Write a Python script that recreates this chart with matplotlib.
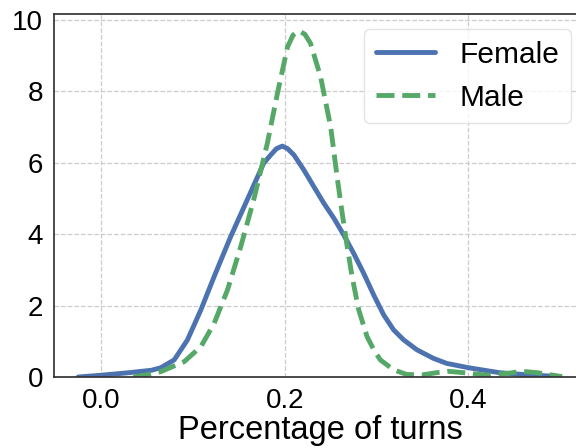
import matplotlib
matplotlib.use("Agg")
import matplotlib.pyplot as plt

plt.rcParams['font.family'] = ['Liberation Sans', 'DejaVu Sans']

# Female density curve
female_x = [-0.025, 0.0, 0.03, 0.055, 0.065, 0.0796, 0.094, 0.1086, 0.123, 0.141,
            0.159, 0.177, 0.1846, 0.191, 0.1973, 0.203, 0.210, 0.2208, 0.2317, 0.2425,
            0.2534, 0.2642, 0.2751, 0.286, 0.2968, 0.3077, 0.3185, 0.3294, 0.344, 0.362,
            0.3765, 0.40, 0.434, 0.47, 0.496]
female_y = [0.0, 0.05, 0.12, 0.19, 0.26, 0.48, 1.04, 1.88, 2.81, 3.93,
            4.96, 5.99, 6.22, 6.40, 6.47, 6.40, 6.22, 5.80, 5.33, 4.87,
            4.45, 3.98, 3.46, 2.90, 2.30, 1.74, 1.32, 1.04, 0.76, 0.52,
            0.38, 0.26, 0.12, 0.05, 0.02]

# Male density curve
male_x = [0.035, 0.05, 0.065, 0.0905, 0.1086, 0.123, 0.1376, 0.152, 0.1665, 0.181,
          0.192, 0.203, 0.209, 0.2154, 0.222, 0.228, 0.239, 0.250, 0.257, 0.2625,
          0.268, 0.2733, 0.2805, 0.2896, 0.297, 0.304, 0.3185, 0.333, 0.35, 0.365,
          0.378, 0.391, 0.42, 0.445, 0.458, 0.475, 0.502]
male_y = [0.0, 0.06, 0.15, 0.43, 0.85, 1.50, 2.44, 3.65, 5.0, 6.55,
          7.95, 9.25, 9.58, 9.70, 9.6, 9.35, 8.41, 7.0, 5.6, 4.59,
          3.65, 2.81, 1.88, 1.13, 0.76, 0.48, 0.20, 0.07, 0.06, 0.12,
          0.16, 0.13, 0.05, 0.11, 0.16, 0.12, 0.01]

series_labels = ["Female", "Male"]
x_ticks = [0.0, 0.2, 0.4]
y_ticks = [0, 2, 4, 6, 8, 10]
x_label = "Percentage of turns"

fig = plt.figure(figsize=(5.76, 4.48), dpi=100)
W, H = 576.0, 448.0
left, top, bottom, right = 54.3, 13.7, 377.0, 586.0
ax = fig.add_axes([left / W, (H - bottom) / H, (right - left) / W, (bottom - top) / H])

ax.plot(female_x, female_y, color="#4C72B0", lw=3.5, label=series_labels[0],
        solid_capstyle="round", solid_joinstyle="round")
ax.plot(male_x, male_y, color="#55A868", lw=3.5, ls="--", label=series_labels[1],
        dash_joinstyle="round")

ax.set_xlim(-0.051, 0.528)
ax.set_ylim(0, 10.18)
ax.set_xticks(x_ticks)
ax.set_xticklabels([f"{v:.1f}" for v in x_ticks])
ax.set_yticks(y_ticks)
ax.set_yticklabels([str(v) for v in y_ticks])
ax.tick_params(axis="both", length=0, pad=8, labelsize=20, colors="black")
ax.set_xlabel(x_label, fontsize=23.5, labelpad=0.5)

ax.grid(True, ls="--", color="#cccccc", lw=0.9)
ax.set_axisbelow(True)
for s in ax.spines.values():
    s.set_color("#333333")
    s.set_linewidth(1.25)

leg = ax.legend(loc="upper right", fontsize=21.5, frameon=True, fancybox=True,
                framealpha=0.8, edgecolor="#dddddd", borderaxespad=0.5)

fig.savefig("out.png", dpi=100)
